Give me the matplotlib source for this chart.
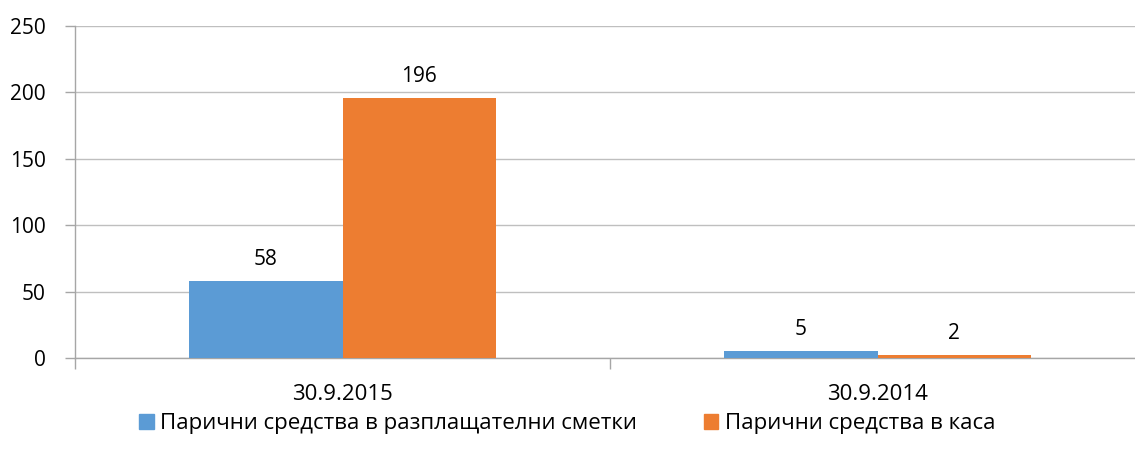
import matplotlib
matplotlib.use("Agg")
import matplotlib.pyplot as plt
import numpy as np
from matplotlib.patches import Patch

plt.rcParams['font.family'] = ['Open Sans', 'DejaVu Sans']

categories = ["30.9.2015", "30.9.2014"]
series_names = ["Парични средства в разплащателни сметки", "Парични средства в каса"]
accounts = [58, 5]
cash = [196, 2]
yticks = [0, 50, 100, 150, 200, 250]

colors = ["#5B9BD5", "#ED7D31"]
fig = plt.figure(figsize=(11.35, 4.63), dpi=100)
ax = fig.add_axes([75/1135, 1-358/463, 1070/1135, (358-26)/463])

x = np.arange(len(categories))
w = 0.286
b1 = ax.bar(x - w/2, accounts, w, color=colors[0], zorder=3)
b2 = ax.bar(x + w/2, cash, w, color=colors[1], zorder=3)
for bars, vals in ((b1, accounts), (b2, cash)):
    for r, v in zip(bars, vals):
        ax.annotate(str(v), (r.get_x() + r.get_width()/2, v), xytext=(0, 8),
                    textcoords="offset points", ha="center", va="bottom",
                    fontsize=15, color="#000000")

ax.set_xlim(-0.5, len(categories) - 0.5)
ax.set_ylim(0, 250)
ax.set_yticks(yticks)
ax.set_yticklabels([str(t) for t in yticks], fontsize=15)
ax.set_xticks(x)
ax.set_xticklabels(categories, fontsize=16)
ax.set_xticks(np.arange(-0.5, len(categories)), minor=True)
ax.tick_params(axis='x', which='major', length=0, pad=19)
ax.tick_params(axis='x', which='minor', length=8, color='#a6a6a6', width=1)
ax.tick_params(axis='y', length=7, color='#a6a6a6', width=1, pad=14)
ax.grid(axis='y', color='#bfbfbf', linewidth=1, zorder=0)
for s in ['top', 'right']:
    ax.spines[s].set_visible(False)
for s in ['left', 'bottom']:
    ax.spines[s].set_color('#a6a6a6')
    ax.spines[s].set_linewidth(1)
ax.set_axisbelow(True)

handles = [Patch(color=c) for c in colors]
fig.legend(handles, series_names, loc='center', bbox_to_anchor=(0.5, 1-424/463),
           ncol=2, frameon=False, fontsize=16, handlelength=0.65, handleheight=0.65,
           handletextpad=0.3, columnspacing=3.0)

fig.savefig("out.png", dpi=100, facecolor="white")
